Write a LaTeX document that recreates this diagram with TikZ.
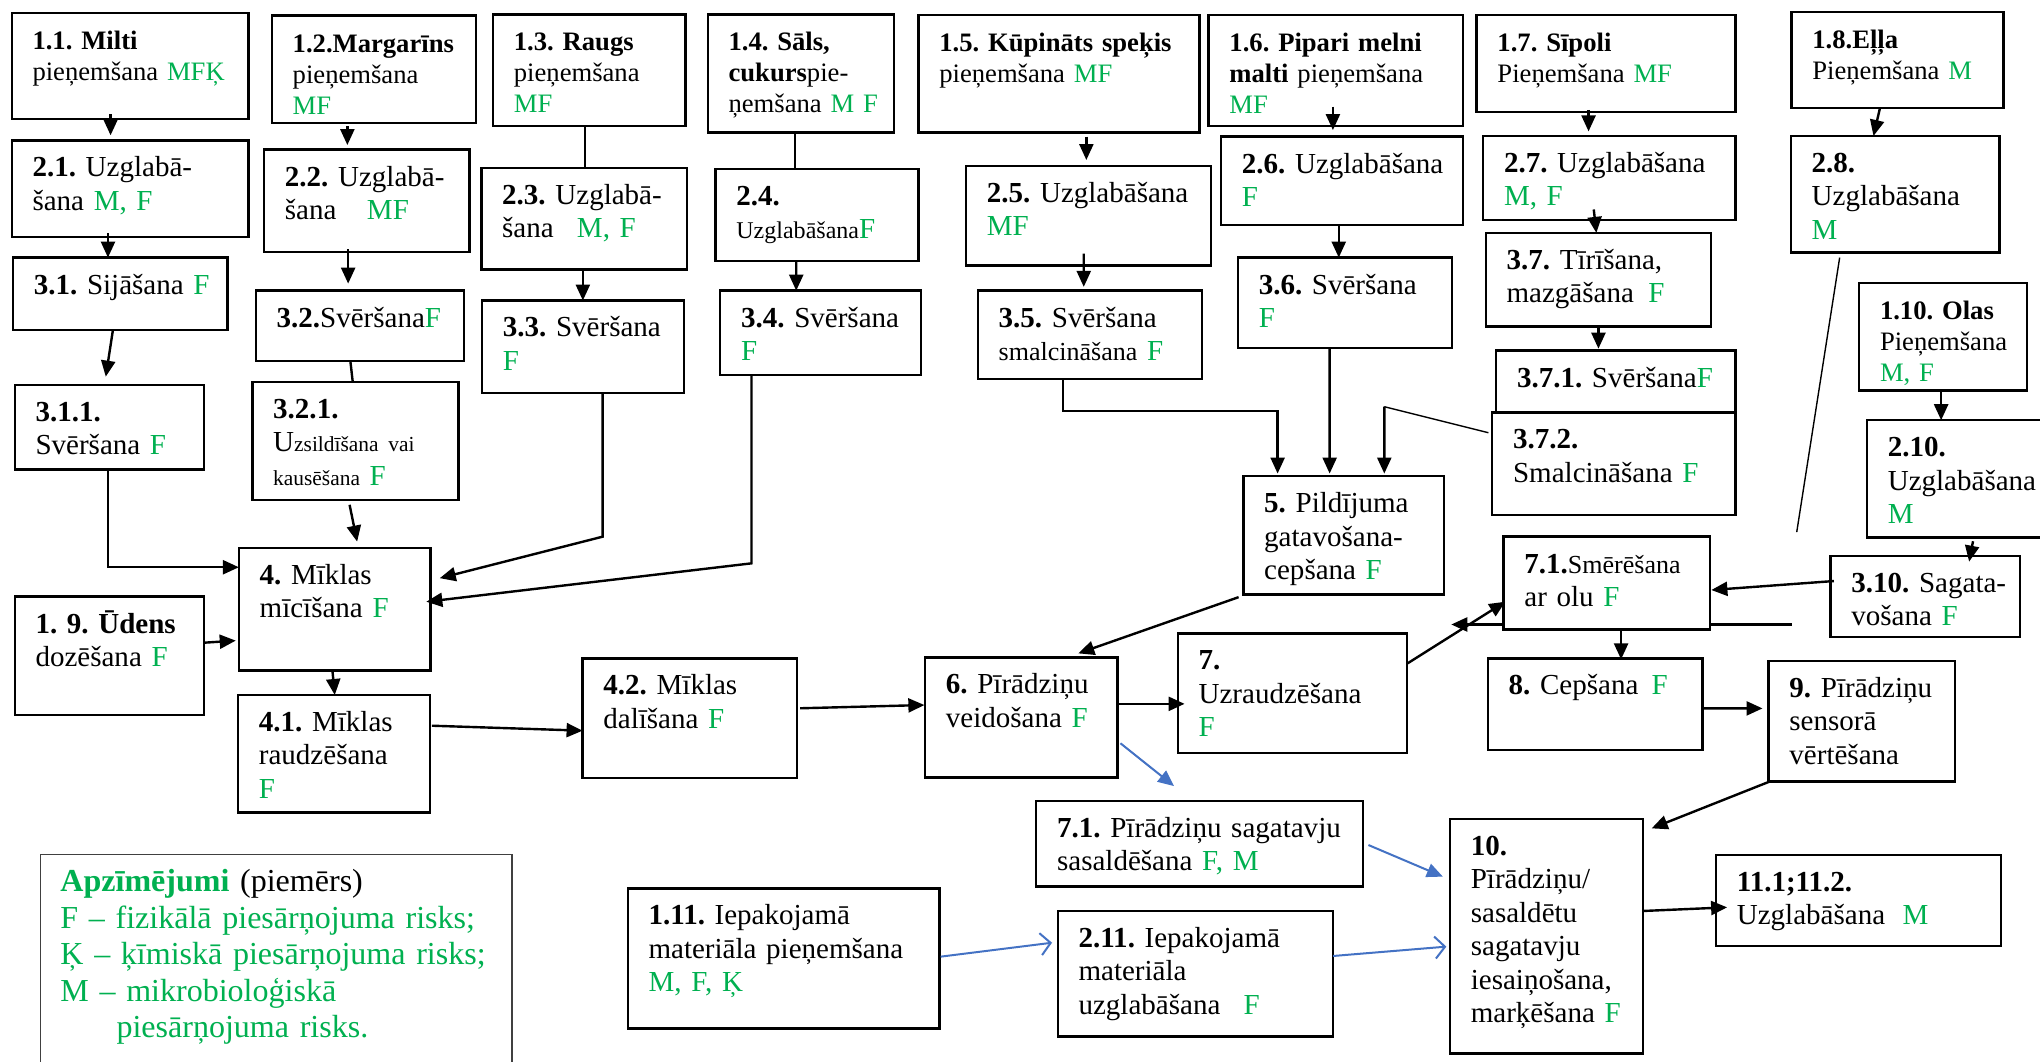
\documentclass[tikz,border=0pt]{standalone}
\usepackage{fontspec}
\setmainfont{Liberation Serif}
\usetikzlibrary{arrows.meta,fit,calc}
\definecolor{gr}{HTML}{00B050}
\definecolor{bl}{HTML}{4472C4}
\newcommand\grn[1]{\textcolor{gr}{#1}}
\newcommand\bx[7][14.5]{%
  \node[box, fit={(#3,#4) (#5,#6)}] (#2) {};
  \node[txt, font=\fontsize{#1}{\fpeval{#1+2.2}}\selectfont] (#2t) at (#3+16,#4+28) {#7};}
\frenchspacing
\begin{document}
\begin{tikzpicture}[x=0.65pt,y=-0.65pt,
  box/.style={draw, line width=1.2pt, fill=white, inner sep=0pt, outer sep=0pt},
  txt/.style={inner sep=0pt, outer sep=0pt, align=left, text width=9cm, anchor=base west},
  arr/.style={line width=1.2pt, -{Triangle[length=8pt,width=7pt]}},
  ln/.style={line width=1.2pt},
  thinln/.style={line width=0.7pt},
  barr/.style={color=bl, line width=1pt, -{Triangle[length=8pt,width=7pt]}},
  bbarb/.style={color=bl, line width=1pt, -{Straight Barb[length=5pt,width=11pt]}}]
\useasboundingbox (0,0) rectangle (1568,816);
\fill[white] (0,0) rectangle (1568,816);
\clip (0,0) rectangle (1568,816);

% row 1
\bx[13.3]{b11}{9}{10}{191}{91.5}{\textbf{1.1. Milti}\\pieņemšana \grn{MFĶ}}
\bx[13.3]{b12}{209}{12}{366}{94.5}{\textbf{1.2.Margarīns}\\pieņemšana\\\grn{MF}}
\bx[13.3]{b13}{379}{11}{527}{97}{\textbf{1.3. Raugs}\\pieņemšana\\\grn{MF}}
\bx[13.3]{b14}{544}{11}{687}{102}{\textbf{1.4. Sāls,}\\\textbf{cukurs}pie-\\ņemšana \grn{M F}}
\bx[13.3]{b15}{706}{11.5}{922}{102}{\textbf{1.5. Kūpināts speķis}\\pieņemšana \grn{MF}}
\bx[13.3]{b16}{929}{11.5}{1124.5}{97}{\textbf{1.6. Pipari melni}\\\textbf{malti} pieņemšana\\\grn{MF}}
\bx[13.3]{b17}{1135}{11.5}{1334}{86}{\textbf{1.7. Sīpoli}\\Pieņemšana \grn{MF}}
\bx[13.3]{b18}{1377}{9}{1540}{83}{\textbf{1.8.Eļļa}\\Pieņemšana \grn{M}}
% row 2
\bx{b21}{9}{108}{191}{182}{\textbf{2.1.} Uzglabā-\\šana \grn{M, F}}
\bx{b22}{203}{115}{361}{193.5}{\textbf{2.2.} Uzglabā-\\šana\hspace{1.05em}\grn{MF}}
\bx{b23}{370}{129}{528}{207}{\textbf{2.3.} Uzglabā-\\šana\hspace{0.8em}\grn{M, F}}
\bx{b24}{550}{130}{706}{200.5}{\textbf{2.4.}\\{\fontsize{12}{14}\selectfont Uzglabāšana}\grn{F}}
\bx{b25}{742.5}{127.5}{931}{204}{\textbf{2.5.} Uzglabāšana\\\grn{MF}}
\bx{b26}{938.5}{105}{1124.5}{173}{\textbf{2.6.} Uzglabāšana\\\grn{F}}
\bx{b27}{1140}{104.5}{1334}{169}{\textbf{2.7.} Uzglabāšana\\\grn{M, F}}
\bx{b28}{1376.5}{104.5}{1537}{194}{\textbf{2.8.}\\Uzglabāšana\\\grn{M}}
% row 3
\bx{b31}{10}{198}{175}{253.6}{\textbf{3.1.} Sijāšana \grn{F}}
\bx{b311}{11.3}{296}{156.8}{361}{\textbf{3.1.1.}\\Svēršana \grn{F}}
\bx{b32}{196.6}{223.4}{356.8}{277.5}{\textbf{3.2.}Svēršana\grn{F}}
\bx{b321}{194}{293.4}{352.4}{384.3}{\textbf{3.2.1.}\\U{\fontsize{10.7}{12}\selectfont zsildīšana vai}\\{\fontsize{10.7}{12}\selectfont kausēšana} \grn{F}}
\bx{b33}{370.5}{231}{525.7}{302.3}{\textbf{3.3.} Svēršana\\\grn{F}}
\bx{b34}{553.6}{223.4}{708}{288.2}{\textbf{3.4.} Svēršana\\\grn{F}}
\bx{b35}{751.6}{223.4}{924}{291.3}{\textbf{3.5.} Svēršana\\{\fontsize{13}{15}\selectfont smalcināšana} \grn{F}}
\bx{b36}{951.5}{198}{1116}{267.7}{\textbf{3.6.} Svēršana\\\grn{F}}
\bx{b37}{1142}{179}{1315}{251}{\textbf{3.7.} Tīrīšana,\\mazgāšana\hspace{0.5em}\grn{F}}
\bx{b371}{1150}{269.5}{1334}{317.5}{\textbf{3.7.1.} Svēršana\grn{F}}
\bx{b372}{1147}{317}{1334}{396}{\textbf{3.7.2.}\\Smalcināšana \grn{F}}
\bx[13.3]{b110}{1429}{217.5}{1558}{300}{\textbf{1.10. Olas}\\Pieņemšana\\\grn{M, F}}
\bx{b210}{1435}{323}{1580}{413}{\textbf{2.10.}\\Uzglabāšana\\\grn{M}}
\bx{b310}{1407}{427.4}{1552.6}{489.4}{\textbf{3.10.} Sagata-\\vošana \grn{F}}
\bx{b71}{1155.7}{412.5}{1314.4}{484}{\textbf{7.1.}{\fontsize{13}{15}\selectfont Smērēšana}\\ar olu \grn{F}}
% lower part
\bx{b4}{183.6}{421.3}{331}{515.5}{\textbf{4.} Mīklas\\mīcīšana \grn{F}}
\bx{b19}{11.3}{458.6}{156.8}{549.6}{\textbf{1. 9. Ūdens}\\dozēšana \grn{F}}
\bx{b41}{183}{534.2}{330.5}{624.4}{\textbf{4.1.} Mīklas\\raudzēšana\\\grn{F}}
\bx{b42}{447.8}{506}{612.7}{598}{\textbf{4.2.} Mīklas\\dalīšana \grn{F}}
\bx{b5}{955.7}{366}{1110}{457}{\textbf{5.} Pildījuma\\gatavošana-\\cepšana \grn{F}}
\bx{b6}{711}{505.3}{859}{597.5}{\textbf{6.} Pīrādziņu\\veidošana \grn{F}}
\bx{b7}{905.3}{486.8}{1081.5}{579}{\textbf{7.}\\Uzraudzēšana\\\grn{F}}
\bx{b8}{1143.6}{506}{1308.6}{576.5}{\textbf{8.} Cepšana\hspace{0.45em}\grn{F}}
\bx{b9}{1359.4}{508}{1502.7}{600.8}{\textbf{9.} Pīrādziņu\\sensorā\\vērtēšana}
\bx{b71s}{796.5}{615.7}{1047.5}{681.5}{\textbf{7.1.} Pīrādziņu sagatavju\\sasaldēšana \grn{F, M}}
\bx{b10}{1114.5}{629.5}{1263}{809.6}{\textbf{10.}\\Pīrādziņu/\\sasaldētu\\sagatavju\\iesaiņošana,\\marķēšana \grn{F}}
\bx{b11x}{1319}{657.2}{1538}{727.1}{\textbf{11.1;11.2.}\\Uzglabāšana\hspace{0.6em}\grn{M}}
\bx{b111}{482.5}{682.8}{722.2}{790.4}{\textbf{1.11.} Iepakojamā\\materiāla pieņemšana\\\grn{M, F, Ķ}}
\bx{b211}{813}{700.2}{1024.5}{796.8}{\textbf{2.11.} Iepakojamā\\materiāla\\uzglabāšana\hspace{0.8em}\grn{F}}

% legend
\draw[line width=0.7pt, draw=black!75] (30.9,830) |- (393.6,656.7) -- (393.6,830);
\node[txt, text=gr, font=\fontsize{16}{18.2}\selectfont] (leg) at (46.5,685.4)
  {\textbf{Apzīmējumi} \textcolor{black}{(piemērs)}\\F – fizikālā piesārņojuma risks;\\Ķ – ķīmiskā piesārņojuma risks;\\M – mikrobioloģiskā\\\hspace*{28pt}piesārņojuma risks.};

% connectors
\draw[arr] ($(b11.north west)+(76,78)$) -- ($(b21.north west)+(76,-4)$);
\draw[arr] ($(b21.north west)+(74,71.4)$) -- ($(b31.north west)+(73,0)$);
\draw[arr] ($(b31.north west)+(76.8,55.6)$) -- ($(b311.north west)+(70,-6.5)$);
\draw[arr] ($(b12.north west)+(58,85)$) -- ($(b22.north west)+(64,-3.5)$);
\draw[arr] ($(b22.north west)+(64.6,76.6)$) -- ($(b32.north west)+(71,-5.4)$);
\draw[ln] ($(b32.north west)+(72.7,54.1)$) -- ($(b321.north west)+(77.1,0)$);
\draw[arr] ($(b321.north west)+(74.7,94.6)$) -- ($(b4.north west)+(90.9,-5)$);
\draw[ln] ($(b13.north west)+(70.5,86)$) -- ($(b23.north west)+(79.5,0)$);
\draw[arr] ($(b23.north west)+(78,78)$) -- ($(b33.north west)+(77.5,0)$);
\draw[ln] ($(b14.north west)+(67,91)$) -- ($(b24.north west)+(61,0)$);
\draw[arr] ($(b24.north west)+(62,70.5)$) -- ($(b34.north west)+(58.4,0)$);
\draw[arr] ($(b15.north west)+(129,93.5)$) -- ($(b25.north west)+(92.5,-4.5)$);
\draw[arr] ($(b25.north west)+(90.5,67.5)$) -- ($(b35.north west)+(81.4,-2.9)$);
\draw[arr] ($(b16.north west)+(95.5,70.5)$) -- ($(b26.north west)+(86,-5)$);
\draw[arr] ($(b26.north west)+(90.5,68)$) -- ($(b36.north west)+(77.5,0)$);
\draw[arr] ($(b17.north west)+(86,73)$) -- ($(b27.north west)+(81,-3.5)$);
\draw[arr] ($(b27.north west)+(85,56.5)$) -- ($(b37.north west)+(85,0)$);
\draw[arr] ($(b37.north west)+(86.6,72)$) -- ($(b371.north west)+(78.6,-1.5)$);
\draw[arr] ($(b18.north west)+(68,74)$) -- ($(b28.north west)+(63.5,0)$);
\coordinate (c28) at (1381,409);
\draw[thinln] ($(b28.north west)+(37.5,93.5)$) -- (c28);
\draw[arr] ($(b110.north west)+(63,83.5)$) -- ($(b210.north west)+(57,0)$);
\draw[arr] ($(b210.north west)+(81.5,93)$) -- ($(b310.north west)+(106.5,4.3)$);
\draw[arr] ($(b310.north west)+(2.6,19.2)$) -- ($(b71.north west)+(159.7,41)$);
\coordinate (c71r) at (1377,480);
\coordinate (c71l) at (1115.5,480);
\draw[ln] (c71r) -- ($(b71.south east)+(0,-4)$);
\draw[arr] ($(b71.south west)+(0,-4)$) -- (c71l);
\draw[arr] ($(b7.north west)+(176.7,23)$) -- ($(b71.north west)+(1.3,50)$);
\draw[arr] ($(b71.north west)+(90.3,71.5)$) -- ($(b8.north west)+(102.4,0.8)$);
\draw[arr] ($(b8.north west)+(165,38.5)$) -- ($(b9.north west)+(-4.7,36.5)$);
\draw[arr] ($(b9.north west)+(0.6,92.8)$) -- ($(b10.north west)+(155,7.2)$);
\draw[arr] ($(b10.north west)+(148.5,70.7)$) -- ($(b11x.north west)+(8.5,40.2)$);
\draw[arr] ($(b6.north west)+(148,35.7)$) -- ($(b7.north west)+(5.2,54.2)$);
\draw[arr] ($(b42.north west)+(167.2,38.4)$) -- ($(b6.north west)+(-0.5,36.6)$);
\draw[arr] ($(b41.north west)+(149,23.6)$) -- ($(b42.north west)+(0,55.6)$);
\draw[arr] ($(b4.north west)+(72,95)$) -- ($(b41.north west)+(74.3,0)$);
\draw[arr] ($(b19.north west)+(145.5,35.4)$) -- ($(b4.north west)+(-2.4,71.1)$);
\draw[arr] ($(b311.north west)+(71.7,65)$) |- ($(b4.north west)+(0,14.7)$);
\draw[arr] ($(b33.north west)+(92.7,71.3)$) -- ($(b33.north west)+(92.7,181.5)$) -- ($(b4.north west)+(154.4,23.1)$);
\draw[arr] ($(b34.north west)+(24,64.8)$) -- ($(b34.north west)+(24,209.6)$) -- ($(b4.north west)+(144.1,41.2)$);
\draw[arr] ($(b35.north west)+(65.4,67.9)$) |- ($(b5.north west)+(26.3,-50)$) -- ($(b5.north west)+(26.3,-2)$);
\draw[arr] ($(b36.north west)+(70.5,69.7)$) -- ($(b5.north west)+(66.3,-2)$);
\coordinate (c372) at (1064,312.6);
\draw[thinln] ($(b372.north west)+(-3,15.6)$) -- (c372);
\draw[arr] (c372) -- ($(b5.north west)+(108.3,-2)$);
\draw[arr] ($(b5.north west)+(-3.7,93)$) -- ($(b6.north west)+(117.8,-3.1)$);
\draw[barr] ($(b6.north west)+(150.2,66)$) -- ($(b71s.north west)+(105.9,-11.5)$);
\draw[barr] ($(b71s.north west)+(255.3,33.8)$) -- ($(b10.north west)+(-5.5,44.3)$);
\draw[bbarb] ($(b111.north west)+(240.5,52.5)$) -- ($(b211.north west)+(-4.4,24.4)$);
\draw[bbarb] ($(b211.north west)+(211.6,34.6)$) -- ($(b10.north west)+(-2.8,98.1)$);
\end{tikzpicture}
\end{document}
